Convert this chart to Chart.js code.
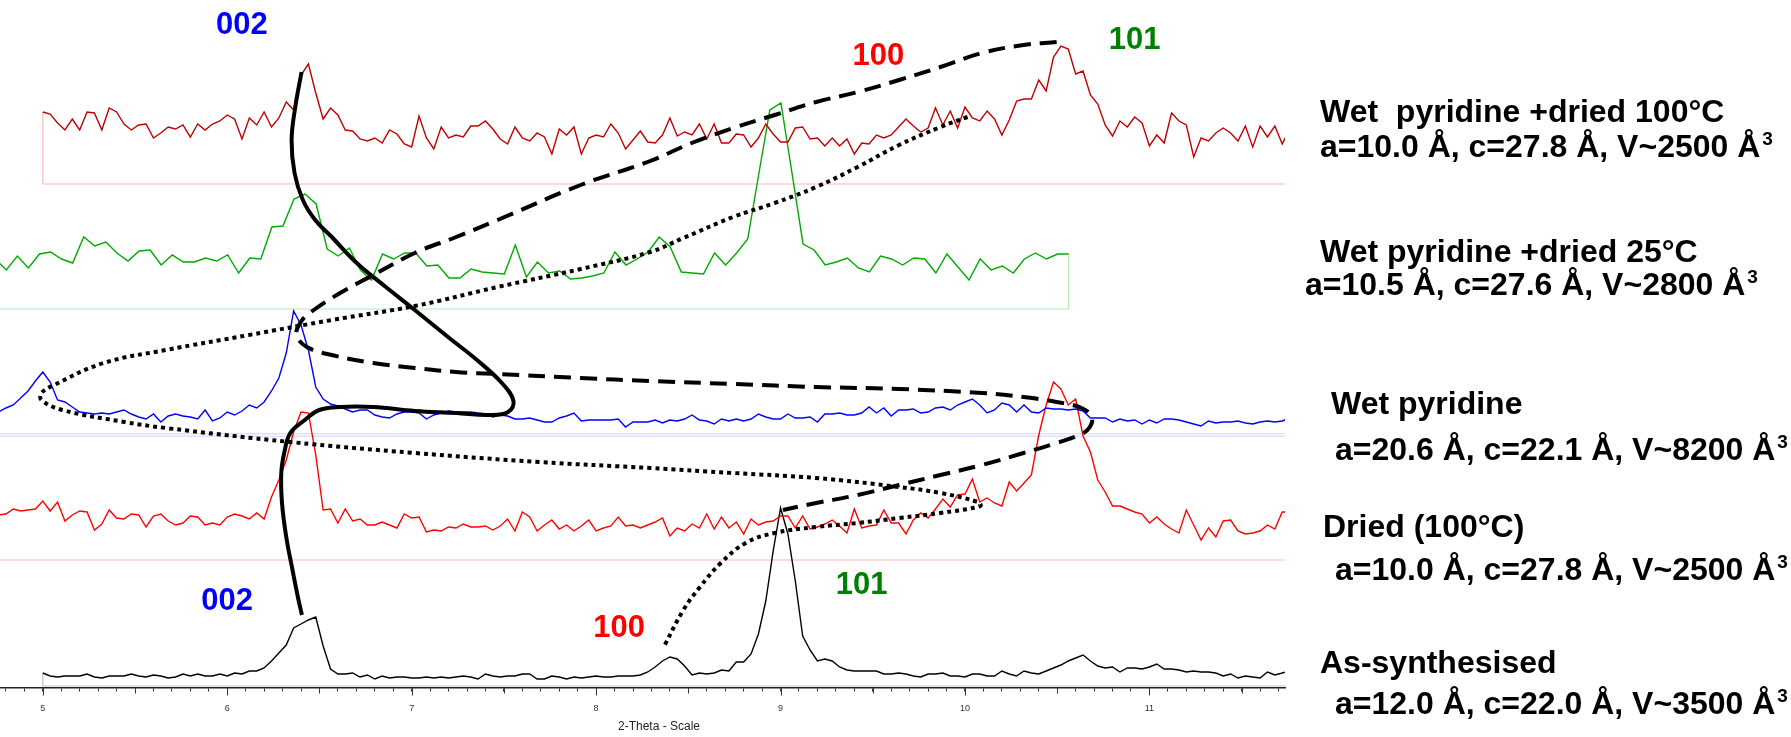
<!DOCTYPE html>
<html>
<head>
<meta charset="utf-8">
<script src="https://cdn.jsdelivr.net/npm/chart.js@4.4.0/dist/chart.umd.min.js"></script>
<style>
  html, body { margin: 0; padding: 0; background: #fff; overflow: hidden; }
  #wrap { position: relative; width: 1791px; height: 737px; }
</style>
</head>
<body>
<div id="wrap"><canvas id="xrd"></canvas></div>
<script>
// ---- data (2-Theta in degrees, intensity in counts above each trace's baseline) ----
const wetDried100 = [72,70,61,54,65,54,72,71,54,76,72,60,54,59,60,46,51,57,55,59,
  47,60,54,60,63,69,65,45,66,59,72,57,66,82,74,109,120,91,65,76,
  69,54,53,45,43,46,41,54,50,40,37,68,46,35,57,46,49,47,58,58,
  63,55,45,40,57,46,43,51,47,30,55,49,57,30,46,49,47,60,51,35,
  44,53,42,41,49,66,48,52,49,60,45,60,41,41,50,49,37,46,60,50,
  42,42,56,57,45,46,38,46,38,45,30,41,40,49,46,49,57,65,58,52,
  56,76,59,73,56,77,66,63,73,65,49,64,83,85,85,104,93,127,138,135,
  110,113,89,80,59,48,63,57,67,61,38,49,41,71,63,59,27,46,43,51,
  56,51,43,58,37,58,47,58,40,55];
const wetDried25 = [50,39,53,41,55,57,50,46,72,63,67,56,48,58,59,44,54,47,47,51,
  48,54,36,51,50,82,83,110,115,105,60,53,61,39,29,55,50,56,56,43,
  44,31,31,40,37,36,35,64,32,47,36,38,30,31,33,36,57,44,50,57,
  72,62,37,36,35,56,44,56,70,135,199,206,136,65,59,44,47,51,41,37,
  53,50,44,51,50,36,55,42,29,50,39,43,36,50,56,50,55,55];
const wetPyridine = [23,27,30,37,44,54,63,53,35,33,28,23,22,21,22,21,23,25,21,18,
  16,21,13,19,21,19,18,16,25,14,17,23,20,24,30,27,33,44,57,82,
  124,110,85,48,36,31,29,26,23,25,25,20,18,17,21,23,23,22,16,20,
  22,24,23,23,23,22,21,18,20,19,16,16,17,15,13,13,17,19,22,14,
  15,15,15,15,16,8,13,13,13,15,12,15,14,16,20,15,14,11,16,14,
  16,14,16,21,18,16,16,21,17,17,18,13,21,21,22,20,20,22,28,22,
  27,19,25,25,26,22,23,27,28,25,30,33,36,30,22,25,32,30,23,30,
  23,22,27,26,26,25,26,24,17,17,17,13,16,14,15,11,15,12,16,16,
  15,13,11,9,14,12,13,13,14,12,11,13,14,13,14,17];
const dried100 = [45,46,51,49,50,51,59,49,58,39,45,49,48,30,36,50,42,41,46,45,
  33,44,46,39,35,37,44,43,35,37,35,43,46,44,41,47,41,63,80,100,
  128,148,147,105,50,51,37,51,39,41,35,35,38,35,32,46,42,43,28,30,
  29,33,32,36,33,33,34,30,34,41,29,48,43,29,35,40,31,35,29,34,
  40,29,32,34,43,34,35,32,35,38,42,24,32,29,36,32,46,31,43,32,
  38,26,41,35,38,39,44,44,32,44,31,33,36,40,34,27,51,32,34,35,
  50,37,37,26,40,47,42,51,61,53,65,66,81,58,62,57,54,78,69,77,
  85,125,155,178,171,155,161,124,108,80,68,54,54,51,48,46,37,43,36,31,
  27,50,35,20,32,23,39,40,29,26,27,29,35,31,48,48];
const asSynthesised = [13,10,9,10,10,10,12,9,8,10,10,10,12,10,9,11,10,8,9,12,
  10,12,10,10,12,10,13,12,15,15,18,25,33,41,58,62,66,69,40,17,
  12,12,13,9,11,7,10,8,9,9,8,8,9,8,9,8,9,10,9,7,
  12,10,9,10,10,12,12,7,7,10,9,7,9,8,9,10,9,9,10,10,
  10,11,14,19,25,29,27,20,11,13,12,13,16,15,24,24,32,52,85,135,
  178,152,105,50,36,25,27,25,19,16,15,15,15,15,12,12,13,12,10,9,
  12,12,13,10,10,9,12,12,10,10,15,12,10,15,13,12,15,18,21,25,
  28,31,25,20,18,19,14,18,18,17,19,22,17,17,16,14,15,14,14,13,
  10,12,8,10,9,8,14,11,13,15];

// first 2-Theta and step of each scan
const scanStart = [5.0, 4.742, 4.76, 4.76, 5.0];
const scanStep = [0.04, 0.06, 0.04, 0.04, 0.04];
// vertical offset of each trace in the stacked plot
const traceOffset = [504, 379, 253, 128, 2];

// guide curves drawn over the patterns, [2-Theta, stacked counts]
const solidPath = [[6.403,616],[6.369,581],[6.349,548],[6.365,515],[6.410,488],[6.477,468],
  [6.567,451],[6.702,425],[6.860,401],[7.017,378],[7.197,351],[7.354,328],[7.489,305],
  [7.552,287],[7.523,276],[7.421,273],[7.241,275],[7.017,277],[6.792,281],[6.612,281],
  [6.499,278],[6.421,268],[6.342,255],[6.309,235],[6.293,215],[6.297,185],[6.320,151],
  [6.354,118],[6.383,91],[6.405,73]];
const dashedPath = [[10.497,646],[10.317,643],[10.092,635],[9.867,621],[9.643,608],[9.418,596],
  [9.193,586],[8.968,573],[8.743,560],[8.518,545],[8.293,527],[7.916,503],[7.466,468],
  [7.241,451],[7.017,435],[6.792,413],[6.612,395],[6.454,376],[6.399,366],[6.376,353],
  [6.432,341],[6.567,333],[6.792,325],[7.017,320],[7.241,316],[7.466,314],[7.916,310],
  [8.293,307],[8.743,304],[9.193,301],[9.643,299],[10.092,295],[10.317,291],[10.497,286],
  [10.632,280],[10.688,271],[10.677,261],[10.632,254],[10.497,245],[10.317,235],[10.092,223],
  [9.867,213],[9.643,203],[9.418,193],[9.193,185],[9.013,178]];
const dottedPath = [[10.014,571],[9.867,561],[9.643,543],[9.418,521],[9.193,501],[8.968,485],
  [8.743,471],[8.473,450],[8.293,436],[7.916,419],[7.466,401],[7.017,382],[6.567,368],
  [6.118,353],[5.668,338],[5.330,325],[5.061,303],[4.993,295],[4.993,288],[5.106,278],
  [5.443,266],[5.668,260],[6.342,246],[7.017,235],[7.691,226],[8.293,220],[8.743,215],
  [9.193,210],[9.643,201],[9.867,195],[10.069,186],[10.083,182],[9.867,175],[9.643,170],
  [9.418,165],[9.193,161],[8.968,155],[8.811,145],[8.676,125],[8.563,101],[8.473,78],[8.372,43]];

const hklText = ['002', '100', '101', '002', '100', '101'];
const hklAt = [[6.079,663],[9.53,632],[10.92,648],[6.0,87],[8.125,60],[9.44,103]];
const hklColor = ['#0000ff', '#ff0000', '#008000', '#0000ff', '#ff0000', '#008000'];

const sampleNames = ['Wet  pyridine +dried 100°C', 'Wet pyridine +dried 25°C', 'Wet pyridine',
  'Dried (100°C)', 'As-synthesised'];
const cellParams = ['a=10.0 Å, c=27.8 Å, V~2500 Å', 'a=10.5 Å, c=27.6 Å, V~2800 Å',
  'a=20.6 Å, c=22.1 Å, V~8200 Å', 'a=10.0 Å, c=27.8 Å, V~2500 Å', 'a=12.0 Å, c=22.0 Å, V~3500 Å'];

const majorTicks = [5, 6, 7, 8, 9, 10, 11];
const xMin = 4.768, xMax = 11.735;

// ---- styles / layout ----
const scans = [wetDried100, wetDried25, wetPyridine, dried100, asSynthesised];
const lineColor = ['#c00000', '#00aa00', '#0000ff', '#ff0000', '#000000'];
const baseColor = ['#f4bcbc', '#b4ecb4', '#c4c4ff', '#ffbcbc', '#c4c4c4'];
const nameXY = [[1320,122],[1320,262],[1331,414],[1323,537],[1320,673]];
const paramXY = [[1320,157],[1305,295],[1335,460],[1335,580],[1335,714]];
const textFont = '"Liberation Sans", Arial, sans-serif';

function scanPoints(k) {
  return scans[k].map((v, i) => ({ x: +(scanStart[k] + i * scanStep[k]).toFixed(3), y: traceOffset[k] + v }));
}

const datasets = [];

// guide curves on top
function guide(path, dash) {
  return {
    data: path.map(p => ({ x: p[0], y: p[1] })),
    showLine: true, pointRadius: 0, borderColor: '#000', borderWidth: 4,
    borderDash: dash, borderCapStyle: 'butt', tension: 0.4, order: 0
  };
}
datasets.push(guide(solidPath, []));
datasets.push(guide(dashedPath, [17, 9]));
datasets.push(guide(dottedPath, [4, 4]));

scans.forEach((s, k) => {
  const pts = scanPoints(k);
  datasets.push({
    data: pts, showLine: true, pointRadius: 0, borderColor: lineColor[k],
    borderWidth: 1.4, tension: 0, order: 1
  });
  const off = traceOffset[k];
  const first = pts[0], last = pts[pts.length - 1];
  let frame;
  if (k === 1) {
    // right edge closes the scan
    frame = [{ x: xMin, y: off }, { x: last.x, y: off }, last];
  } else if (k === 0 || k === 4) {
    frame = [first, { x: first.x, y: off }, { x: xMax, y: off }];
  } else {
    frame = [{ x: xMin, y: off }, { x: xMax, y: off }];
  }
  const frames = k === 2
    ? [frame.map(p => ({ x: p.x, y: p.y + 1.2 })), frame.map(p => ({ x: p.x, y: p.y - 1.2 }))]
    : [frame];
  frames.forEach(f => datasets.push({
    data: f, showLine: true, pointRadius: 0, borderColor: baseColor[k],
    borderWidth: k === 2 ? 0.8 : 1.2, tension: 0, order: 2
  }));
});

const overlay = {
  id: 'overlay',
  afterDraw(chart) {
    const ctx = chart.ctx;
    const xs = chart.scales.x, ys = chart.scales.y;
    const bottom = chart.chartArea.bottom;
    ctx.save();

    // longer ticks at whole and half degrees
    ctx.strokeStyle = '#333';
    ctx.lineWidth = 1;
    for (let k = 10; k <= 23; k++) {
      const v = k / 2;
      if (v < xMin || v > xMax) continue;
      const px = Math.round(xs.getPixelForValue(v)) + 0.5;
      ctx.beginPath();
      ctx.moveTo(px, bottom);
      ctx.lineTo(px, bottom + (k % 2 === 0 ? 7.5 : 5.5));
      ctx.stroke();
    }

    // axis title
    ctx.fillStyle = '#222';
    ctx.font = '12px "Liberation Sans Narrow", "Liberation Sans", Arial, sans-serif';
    ctx.textAlign = 'center';
    ctx.textBaseline = 'middle';
    ctx.fillText('2-Theta - Scale', 659, 727);

    // reflection labels
    ctx.font = 'bold 31px ' + textFont;
    hklText.forEach((t, i) => {
      ctx.fillStyle = hklColor[i];
      ctx.fillText(t, xs.getPixelForValue(hklAt[i][0]), ys.getPixelForValue(hklAt[i][1]));
    });

    // sample names and cell parameters
    ctx.fillStyle = '#000';
    ctx.textAlign = 'left';
    ctx.textBaseline = 'alphabetic';
    sampleNames.forEach((name, i) => {
      ctx.font = 'bold 32px ' + textFont;
      ctx.fillText(name, nameXY[i][0], nameXY[i][1]);
      const p = cellParams[i];
      ctx.fillText(p, paramXY[i][0], paramXY[i][1]);
      const w = ctx.measureText(p).width;
      ctx.font = 'bold 19px ' + textFont;
      ctx.fillText('3', paramXY[i][0] + w + 2, paramXY[i][1] - 12);
    });
    ctx.restore();
  }
};

new Chart(document.getElementById('xrd'), {
  type: 'scatter',
  data: { datasets: datasets },
  options: {
    responsive: true,
    maintainAspectRatio: false,
    animation: false,
    events: [],
    layout: { padding: { left: 0, right: 506, top: 0, bottom: 0 } },
    plugins: { legend: { display: false }, tooltip: { enabled: false } },
    scales: {
      x: {
        type: 'linear',
        position: 'bottom',
        min: xMin,
        max: xMax,
        afterBuildTicks: function (scale) {
          const t = [];
          for (let k = 48; k <= 117; k++) t.push({ value: k / 10 });
          scale.ticks = t;
        },
        afterFit: function (scale) {
          scale.height = 49;
          scale.paddingLeft = 0;
          scale.paddingRight = 0;
        },
        grid: { drawOnChartArea: false, drawTicks: true, tickLength: 3.5, color: '#333', tickColor: '#333' },
        border: { display: true, color: '#222', width: 1.5 },
        ticks: {
          autoSkip: false,
          maxRotation: 0,
          padding: 12,
          color: '#333',
          font: { family: 'Liberation Sans, Arial, sans-serif', size: 9 },
          callback: function (value) {
            const r = Math.round(value);
            return Math.abs(value - r) < 1e-6 && majorTicks.includes(r) ? String(r) : '';
          }
        }
      },
      y: { display: false, min: 0, max: 688 }
    }
  },
  plugins: [overlay]
});
</script>
</body>
</html>
